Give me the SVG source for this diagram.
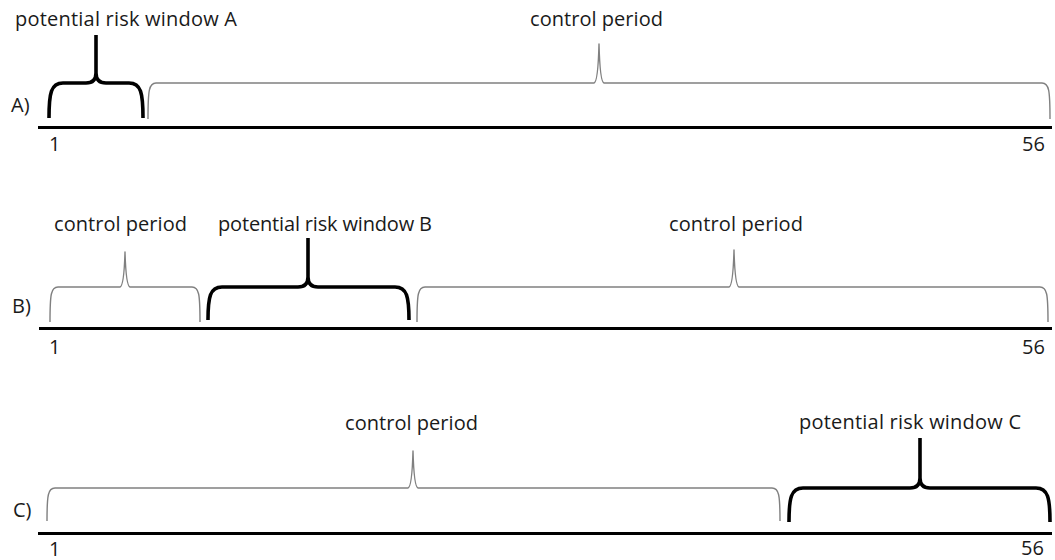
<svg xmlns="http://www.w3.org/2000/svg" width="1055" height="560" viewBox="0 0 1055 560">
<style>
text{font-family:"Open Sans","Liberation Sans",sans-serif;font-size:20px;fill:#1a1a1a}
.thin{fill:none;stroke:#808080;stroke-width:1.4;stroke-linejoin:round}
.thick{fill:none;stroke:#000;stroke-width:3.6;stroke-linejoin:round}
.axis{stroke:#000;stroke-width:3}
</style>
<rect width="1055" height="560" fill="#fff"/>
<g id="axes">
<line class="axis" x1="38" y1="127.5" x2="1052" y2="127.5"/>
<line class="axis" x1="39" y1="328.5" x2="1052" y2="328.5"/>
<line class="axis" x1="38" y1="533.5" x2="1052" y2="533.5"/>
</g>
<g id="row-labels">
<text x="11" y="112">A)</text>
<text x="12" y="313">B)</text>
<text x="13" y="517">C)</text>
</g>
<g id="tick-labels">
<text x="49" y="151">1</text>
<text x="1022" y="151">56</text>
<text x="49" y="354">1</text>
<text x="1022" y="354">56</text>
<text x="49" y="556">1</text>
<text x="1021" y="555">56</text>
</g>
<g id="risk-window-A">
<path class="thick" d="M49,118 C49,93 51,83 63,83 L86,83 Q96,83 96,73 L96,35 M96,73 Q96,83 106,83 L129,83 C141,83 143,93 143,118"/>
<text x="15" y="26" textLength="222">potential risk window A</text>
</g>
<g id="control-A">
<path class="thin" d="M148,119 C148,90 149,83 156,83 L594,83 Q598,82 599,44 Q600,82 604,83 L1042,83 C1049,83 1050,90 1050,119"/>
<text x="530" y="26" textLength="133">control period</text>
</g>
<g id="control-B1">
<path class="thin" d="M50,322 C50,294 51,287 58,287 L120,287 Q124,286 125,252 Q126,286 130,287 L192,287 C199,287 200,294 200,322"/>
<text x="54" y="231" textLength="133">control period</text>
</g>
<g id="risk-window-B">
<path class="thick" d="M208,320 C208,297 210,287 222,287 L298,287 Q308,287 308,277 L308,238 M308,277 Q308,287 318,287 L395,287 C407,287 409,297 409,320"/>
<text x="218" y="231" textLength="214">potential risk window B</text>
</g>
<g id="control-B2">
<path class="thin" d="M417,322 C417,294 418,287 425,287 L729,287 Q733,286 734,250 Q735,286 739,287 L1040,287 C1047,287 1048,294 1048,322"/>
<text x="669" y="231" textLength="134">control period</text>
</g>
<g id="control-C">
<path class="thin" d="M47,521 C47,495 48,488 55,488 L408,488 Q412,487 413,451 Q414,487 418,488 L772,488 C779,488 780,495 780,521"/>
<text x="345" y="430" textLength="133">control period</text>
</g>
<g id="risk-window-C">
<path class="thick" d="M789,522 C789,498 791,488 803,488 L910,488 Q920,488 920,478 L920,438 M920,478 Q920,488 930,488 L1036,488 C1048,488 1050,498 1050,522"/>
<text x="799" y="429" textLength="222">potential risk window C</text>
</g>
</svg>
